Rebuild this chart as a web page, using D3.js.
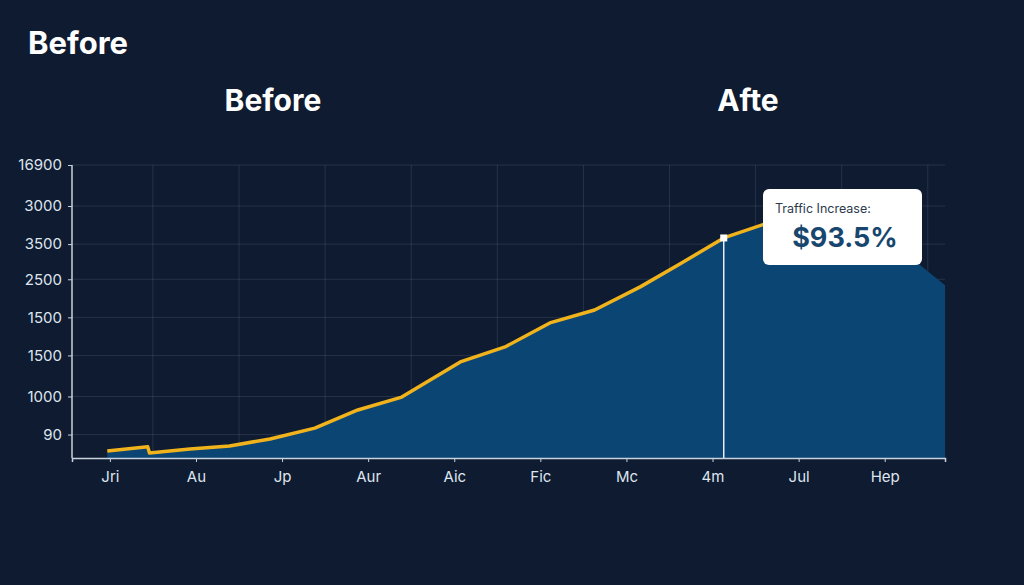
<!DOCTYPE html>
<html><head><meta charset="utf-8">
<script src="https://cdn.jsdelivr.net/npm/d3@7"></script>
<style>
body{margin:0;background:#0e1b31;}
text{font-family:Inter,"Open Sans",sans-serif;}
</style></head>
<body><svg id="chart"></svg>
<script>
// x positions are month index, y in chart units (0 = baseline, 100 = top)
var monthLabels = ["Jri","Au","Jp","Aur","Aic","Fic","Mc","4m","Jul","Hep"];
var yTickValues = [8,21,35,48,61,73,86,100];
var yTickLabels = ["90","1000","1500","1500","2500","3500","3000","16900"];
var lineX = [-0.03,0.44,0.46,0.93,1.39,1.86,2.38,2.88,3.39,4.07,4.59,5.11,5.63,6.16,6.62,7.13,7.61,8.01];
var lineY = [2.4,3.8,1.7,3.1,4.1,6.5,10.2,16.4,20.8,32.8,37.9,46.1,50.5,58.4,66.2,75.1,79.9,81.9];
var tailX = [8.94,9.41,9.70];
var tailY = [79.5,65.9,59.0];
var markIndex = 15;

var svg = d3.select("#chart").attr("width",1024).attr("height",585);
svg.append("rect").attr("width",1024).attr("height",585).attr("fill","#0e1b31");

var xScale = d3.scaleLinear().domain([-0.44,9.70]).range([72,945]);
var yScale = d3.scaleLinear().domain([0,100]).range([458,165]);

var line = lineX.map(function(x,i){return [x,lineY[i]];});
var area = line.concat(tailX.map(function(x,i){return [x,tailY[i]];}));

// grid
svg.append("g").selectAll("line").data(yTickValues).enter().append("line")
  .attr("x1",72).attr("x2",945)
  .attr("y1",function(d){return yScale(d);}).attr("y2",function(d){return yScale(d);})
  .attr("stroke","#ffffff").attr("stroke-opacity",0.1);
svg.append("g").selectAll("line").data(monthLabels).enter().append("line")
  .attr("x1",function(d,i){return xScale(i+0.5);}).attr("x2",function(d,i){return xScale(i+0.5);})
  .attr("y1",165).attr("y2",458)
  .attr("stroke","#ffffff").attr("stroke-opacity",0.1);

svg.append("path").datum(area)
  .attr("d",d3.area().x(function(d){return xScale(d[0]);}).y0(yScale(0)).y1(function(d){return yScale(d[1]);}))
  .attr("fill","#0b4574");

svg.append("line")
  .attr("x1",xScale(lineX[markIndex])).attr("x2",xScale(lineX[markIndex]))
  .attr("y1",yScale(lineY[markIndex])).attr("y2",yScale(0))
  .attr("stroke","#e8eef5").attr("stroke-width",1.5);

svg.append("path").datum(line)
  .attr("d",d3.line().x(function(d){return xScale(d[0]);}).y(function(d){return yScale(d[1]);}))
  .attr("fill","none").attr("stroke","#f0b31c").attr("stroke-width",3.5).attr("stroke-linejoin","round");

svg.append("rect")
  .attr("x",xScale(lineX[markIndex])-3.5).attr("y",yScale(lineY[markIndex])-3.5)
  .attr("width",7).attr("height",7).attr("fill","#ffffff");

// axes
var yAxis = d3.axisLeft(yScale).tickValues(yTickValues)
  .tickFormat(function(d,i){return yTickLabels[i];}).tickSize(4).tickPadding(6);
var gy = svg.append("g").attr("transform","translate(72,0)").call(yAxis);
var xAxis = d3.axisBottom(xScale).tickValues(d3.range(monthLabels.length))
  .tickFormat(function(d){return monthLabels[d];}).tickSize(4).tickPadding(9);
var gx = svg.append("g").attr("transform","translate(0,458)").call(xAxis);
[gy,gx].forEach(function(g){
  g.select(".domain").attr("stroke","#c9d2de").attr("stroke-width",1.5);
  g.selectAll(".tick line").attr("stroke","#c9d2de");
  g.selectAll("text").attr("fill","#dfe5ee").attr("font-size",15).attr("font-family","Inter,sans-serif");
});
gy.select(".domain").attr("d","M0,165V458");

// titles
svg.append("text").attr("x",28).attr("y",54).text("Before")
  .attr("fill","#fff").attr("font-size",31).attr("font-weight",700);
svg.append("text").attr("x",273).attr("y",111).text("Before").attr("text-anchor","middle")
  .attr("fill","#fff").attr("font-size",30).attr("font-weight",700);
svg.append("text").attr("x",748).attr("y",111).text("Afte").attr("text-anchor","middle")
  .attr("fill","#fff").attr("font-size",30).attr("font-weight",700);

// tooltip
var tip = svg.append("g");
tip.append("rect").attr("x",763).attr("y",189).attr("width",159).attr("height",76).attr("rx",6)
  .attr("fill","#ffffff");
tip.append("text").attr("x",775).attr("y",213).text("Traffic Increase:")
  .attr("fill","#2b3a4d").attr("font-size",12.5);
tip.append("text").attr("x",845).attr("y",247).text("$93.5%").attr("text-anchor","middle")
  .attr("fill","#17466f").attr("font-size",27).attr("font-weight",700);
</script></body></html>
